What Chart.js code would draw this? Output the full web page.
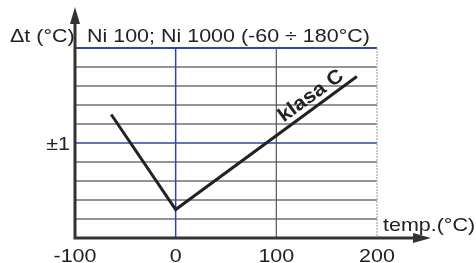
<!DOCTYPE html>
<html>
<head>
<meta charset="utf-8">
<script src="https://cdn.jsdelivr.net/npm/chart.js@4"></script>
<style>
  html, body { margin: 0; padding: 0; background: #fff; }
</style>
</head>
<body>
<canvas id="chart" width="476" height="263"></canvas>
<script>
// data
const tempPoints = [-64, 0, 180];
const deltaT = [1.3, 0.3, 1.7];
const xTicks = [-100, 0, 100, 200];
const xTickLabels = ['-100', '0', '100', '200'];
const yGrid = [0.2, 0.4, 0.6, 0.8, 1.0, 1.2, 1.4, 1.6, 1.8, 2.0];
const yLabelValue = 1;
const yLabelText = '±1';
const titleText = 'Ni 100; Ni 1000 (-60 ÷ 180°C)';
const yAxisTitle = 'Δt (°C)';
const xAxisTitle = 'temp.(°C)';
const curveLabel = 'klasa C';

const FONT = '"Liberation Sans", Arial, sans-serif';
const BLUE = '#2a48a6';
const GRAY = '#707070';
const AXIS = '#333';

function text(ctx, s, x, y, align, font, sx) {
    ctx.save();
    ctx.translate(x, y);
    ctx.scale(sx || 1, 1);
    ctx.font = font;
    ctx.textAlign = align;
    ctx.textBaseline = 'alphabetic';
    ctx.fillStyle = '#222';
    ctx.fillText(s, 0, 0);
    ctx.restore();
}

const gridPlugin = {
    id: 'grid',
    beforeDatasetsDraw(chart) {
        const { ctx, chartArea: a, scales: { x, y } } = chart;
        ctx.save();
        // horizontal lines
        yGrid.forEach(v => {
            const py = y.getPixelForValue(v);
            const blue = (v === 1 || v === 2);
            ctx.strokeStyle = blue ? BLUE : GRAY;
            ctx.lineWidth = blue ? (v === 2 ? 2 : 1.5) : 1.5;
            ctx.beginPath();
            ctx.moveTo(a.left, py);
            ctx.lineTo(a.right, py);
            ctx.stroke();
        });
        // vertical lines
        xTicks.forEach(v => {
            if (v === -100) return;
            const px = x.getPixelForValue(v);
            ctx.setLineDash([]);
            if (v === 0) { ctx.strokeStyle = BLUE; ctx.lineWidth = 1.5; }
            else if (v === 100) { ctx.strokeStyle = '#555'; ctx.lineWidth = 1.2; }
            else { ctx.strokeStyle = '#a8a8a8'; ctx.lineWidth = 1.2; ctx.setLineDash([2, 1]); }
            ctx.beginPath();
            ctx.moveTo(px, a.top);
            ctx.lineTo(px, a.bottom);
            ctx.stroke();
        });
        ctx.restore();
    },
    afterDatasetsDraw(chart) {
        const { ctx, chartArea: a, scales: { x, y } } = chart;
        ctx.save();
        // axes with arrows
        ctx.strokeStyle = AXIS;
        ctx.fillStyle = AXIS;
        ctx.lineWidth = 3;
        ctx.beginPath();
        ctx.moveTo(a.left, a.bottom + 1.5);
        ctx.lineTo(a.left, 20);
        ctx.moveTo(a.left - 1.5, a.bottom);
        ctx.lineTo(416, a.bottom);
        ctx.stroke();
        ctx.beginPath();
        ctx.moveTo(a.left, 7);
        ctx.lineTo(a.left + 5, 24);
        ctx.lineTo(a.left - 5, 24);
        ctx.closePath();
        ctx.fill();
        ctx.beginPath();
        ctx.moveTo(431, a.bottom);
        ctx.lineTo(413, a.bottom - 5);
        ctx.lineTo(413, a.bottom + 5);
        ctx.closePath();
        ctx.fill();

        const f = '19px ' + FONT;
        const sx = 1.13;
        text(ctx, yAxisTitle, 10, 42, 'left', f, sx);
        text(ctx, titleText, 87, 42, 'left', f, sx);
        text(ctx, xAxisTitle, 383, 231, 'left', f, sx);
        text(ctx, yLabelText, 70, y.getPixelForValue(yLabelValue) + 7, 'right', f, sx);
        xTicks.forEach((v, i) => {
            text(ctx, xTickLabels[i], x.getPixelForValue(v), 262, 'center', f, sx);
        });

        // rotated curve label
        ctx.translate(311, 96);
        ctx.rotate(-36 * Math.PI / 180);
        ctx.scale(1.08, 1);
        ctx.font = 'bold 20px ' + FONT;
        ctx.textAlign = 'center';
        ctx.textBaseline = 'middle';
        ctx.fillStyle = '#222';
        ctx.fillText(curveLabel, 0, 0);
        ctx.restore();
    }
};

new Chart(document.getElementById('chart'), {
    type: 'line',
    data: {
        datasets: [{
            data: tempPoints.map((t, i) => ({ x: t, y: deltaT[i] })),
            borderColor: '#222',
            borderWidth: 3,
            pointRadius: 0,
            tension: 0,
            fill: false
        }]
    },
    options: {
        responsive: false,
        animation: false,
        layout: { padding: { left: 75, right: 99, top: 48, bottom: 25 } },
        plugins: { legend: { display: false }, tooltip: { enabled: false } },
        scales: {
            x: { type: 'linear', min: -100, max: 200, display: false },
            y: { min: 0, max: 2, display: false }
        }
    },
    plugins: [gridPlugin]
});
</script>
</body>
</html>
